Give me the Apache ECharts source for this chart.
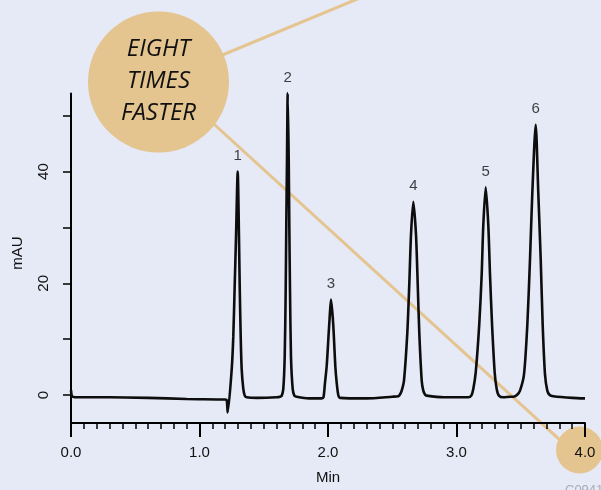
<!DOCTYPE html>
<html>
<head>
<meta charset="utf-8">
<title>Chromatogram</title>
<script src="https://cdn.jsdelivr.net/npm/echarts@6/dist/echarts.min.js"></script>
<style>
  html, body { margin: 0; padding: 0; background: #E6E9F6; }
  #chart { width: 601px; height: 490px; }
</style>
</head>
<body>
<div id="chart"></div>
<script>
// Retention time (min) of each trace point
const times = [
  0.000, 0.008, 0.030, 0.300, 0.600, 0.900, 1.200, 1.212, 1.2195,
  1.2506, 1.2630, 1.2739, 1.2840, 1.2973, 1.3074, 1.3128, 1.3206, 1.3284, 1.3409, 1.3520, 1.3673,
  1.450, 1.600,
  1.6265, 1.6400, 1.6521, 1.6630, 1.6708, 1.6755, 1.6810, 1.6864, 1.6942, 1.6988, 1.7043, 1.7120, 1.7253, 1.7380, 1.7564,
  1.850,
  1.9510, 1.9650, 1.9766, 1.9899, 2.0054, 2.0132, 2.0233, 2.0366, 2.0444, 2.0568, 2.0677, 2.0800, 2.0934,
  2.300, 2.500,
  2.5470, 2.5600, 2.5735, 2.5914, 2.6171, 2.6327, 2.6459, 2.6638, 2.6848, 2.6981, 2.7105, 2.7292, 2.7416, 2.7550, 2.7680,
  2.900, 3.050,
  3.0918, 3.1150, 3.1307, 3.1494, 3.1774, 3.1960, 3.2085, 3.2272, 3.2475, 3.2607, 3.2763, 3.2973, 3.3128, 3.3300, 3.3642,
  3.420,
  3.4420, 3.4700, 3.4942, 3.5253, 3.5510, 3.5720, 3.5899, 3.6163, 3.6366, 3.6553, 3.6708, 3.6887, 3.7066, 3.7250, 3.7533,
  3.900, 4.000
];

// Detector signal (mAU) at each retention time
const signal = [
  0.9, -0.2, -0.4, -0.4, -0.5, -0.7, -0.8, -0.9, -3.1,
  4.6, 10.5, 19.6, 28.1, 40.0, 28.1, 19.6, 10.5, 4.6, 1.1, -0.1, -0.4,
  -0.5, -0.4,
  -0.3, -0.1, 1.1, 6.8, 18.8, 30.6, 42.4, 54.0, 42.4, 30.6, 18.8, 6.8, 1.1, -0.1, -0.3,
  -0.6,
  -0.6, -0.4, 2.2, 5.2, 11.1, 14.0, 17.1, 14.0, 11.1, 5.2, 2.2, 0.0, -0.5,
  -0.6, -0.3,
  -0.2, 0.1, 0.8, 2.6, 11.1, 19.9, 28.7, 34.6, 28.7, 19.9, 11.1, 2.6, 0.8, 0.1, -0.1,
  -0.4, -0.4,
  -0.4, -0.1, 1.1, 4.0, 12.8, 21.6, 30.4, 37.2, 30.4, 21.6, 12.8, 4.0, 1.1, -0.1, -0.4,
  -0.3,
  -0.3, 0.0, 0.8, 3.7, 12.5, 24.3, 36.1, 48.4, 36.1, 24.3, 12.5, 3.7, 0.8, 0.0, -0.2,
  -0.5, -0.6
];

// Peak numbers and their apex retention times
const peakLabels = ['1', '2', '3', '4', '5', '6'];
const peakApexTimes = [1.2973, 1.6864, 2.0233, 2.6638, 3.2272, 3.6163];

// Axis tick labels
const xTickLabels = ['0.0', '1.0', '2.0', '3.0', '4.0'];
const yTickValues = [0, 10, 20, 30, 40, 50];
const yLabelValues = [0, 20, 40];

const trace = times.map((t, i) => [t, signal[i]]);
const peakPoints = peakApexTimes.map((t, k) => {
  const i = times.indexOf(t);
  return { value: [t, signal[i]], name: peakLabels[k] };
});

const FONT = '"Liberation Sans", Arial, sans-serif';
const TAN = '#E4C48F';
const INK = '#111';

const chart = echarts.init(document.getElementById('chart'), null, { renderer: 'canvas' });

chart.setOption({
  backgroundColor: '#E6E9F6',
  animation: false,
  grid: { left: 71, right: 16, top: 93.4, bottom: 62.4, containLabel: false },
  xAxis: {
    type: 'value',
    min: 0, max: 4, interval: 1,
    name: 'Min',
    nameLocation: 'middle',
    nameGap: 47,
    nameTextStyle: { fontFamily: FONT, fontSize: 15, color: INK },
    axisLine: { onZero: false, lineStyle: { color: '#000', width: 2 } },
    axisTick: { show: true, length: 14, lineStyle: { color: '#000', width: 2 } },
    minorTick: { show: true, splitNumber: 10, length: 6, lineStyle: { color: '#000', width: 1.5 } },
    axisLabel: {
      margin: 22,
      fontFamily: FONT, fontSize: 15, color: INK,
      formatter: v => xTickLabels[Math.round(v)]
    },
    splitLine: { show: false },
    minorSplitLine: { show: false }
  },
  yAxis: {
    type: 'value',
    min: -5, max: 54,
    axisLine: { onZero: false, lineStyle: { color: '#000', width: 2 } },
    axisTick: { show: true, length: 8, customValues: yTickValues, lineStyle: { color: '#000', width: 1.5 } },
    axisLabel: {
      rotate: 90,
      margin: 20,
      customValues: yLabelValues,
      fontFamily: FONT, fontSize: 15, color: INK
    },
    splitLine: { show: false }
  },
  series: [
    {
      type: 'line',
      data: trace,
      showSymbol: false,
      smooth: 0.25,
      clip: false,
      z: 3,
      lineStyle: { color: '#0d0d0d', width: 2.6 }
    },
    {
      type: 'scatter',
      data: peakPoints,
      symbolSize: 0,
      z: 4,
      label: {
        show: true,
        position: 'top',
        distance: 8,
        formatter: p => p.name,
        fontFamily: FONT, fontSize: 15, color: INK
      }
    }
  ],
  graphic: [
    // connector lines (behind the trace)
    { type: 'line', z: -2, shape: { x1: 158.5, y1: 81.5, x2: 367, y2: -5 },
      style: { stroke: TAN, lineWidth: 3 } },
    { type: 'line', z: -2, shape: { x1: 158.5, y1: 73.5, x2: 579.5, y2: 457.8 },
      style: { stroke: TAN, lineWidth: 3 } },
    { type: 'circle', z: -1, shape: { cx: 158.5, cy: 82, r: 70.5 }, style: { fill: TAN } },
    { type: 'circle', z: -1, shape: { cx: 579.5, cy: 450, r: 23.5 }, style: { fill: TAN } },
    { type: 'text', z: 5, x: 158.5, y: 81,
      style: {
        text: 'EIGHT\nTIMES\nFASTER',
        font: 'italic 24px "Open Sans", sans-serif',
        lineHeight: 32.3,
        fill: '#111',
        align: 'center', verticalAlign: 'middle'
      } },
    { type: 'text', z: 5, x: 17.5, y: 253, rotation: Math.PI / 2,
      style: {
        text: 'mAU',
        font: '15px "Liberation Sans", Arial, sans-serif',
        fill: INK,
        align: 'center', verticalAlign: 'middle'
      } },
    { type: 'text', z: 5, x: 565, y: 484,
      style: {
        text: 'C094157',
        font: '13px "Liberation Sans", Arial, sans-serif',
        fill: '#A9ACB5',
        align: 'left', verticalAlign: 'top'
      } }
  ]
});
</script>
</body>
</html>
